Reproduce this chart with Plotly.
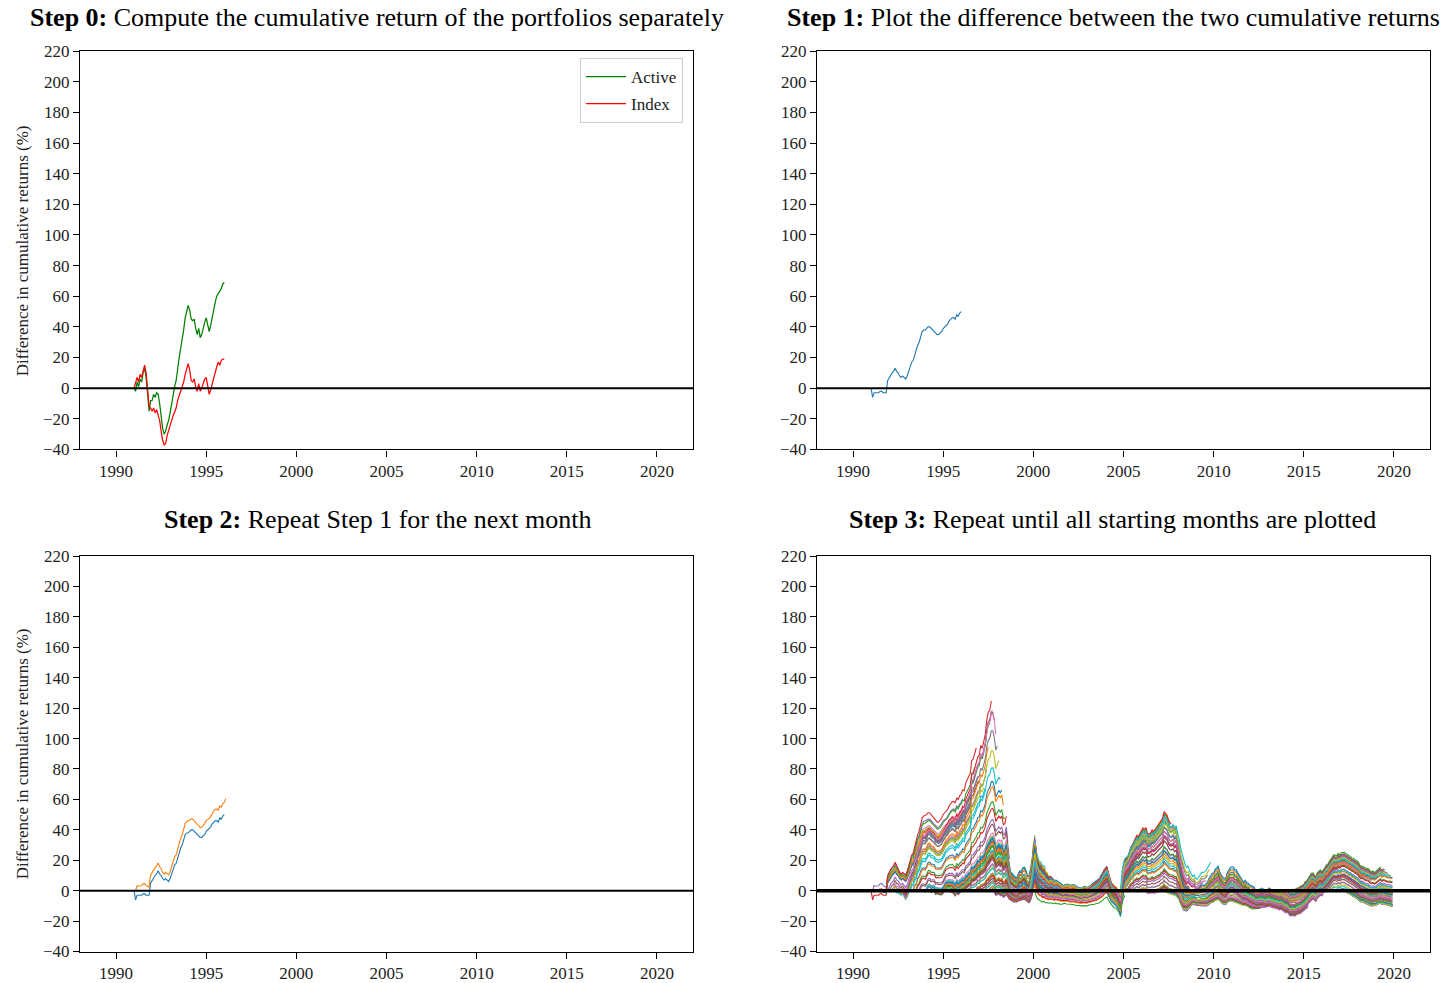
import numpy as np
import plotly.graph_objects as go

# ---------------- data ----------------
start_year = 1991
window_months = 60
x_ticks = [1990, 1995, 2000, 2005, 2010, 2015, 2020]
y_ticks = list(range(-40, 221, 20))

# Monthly value of the index portfolio (Jan 1991 = 100), Jan 1991 .. Dec 2019
index_value = [
    100, 104, 107, 104, 109, 107, 112, 115, 110, 97, 88, 87,
    85, 87, 84, 86, 83, 79, 72, 66, 63, 64, 69, 73,
    76, 79, 82, 84, 87, 92, 96, 98, 101, 104, 109, 113,
    116, 112, 105, 104, 106, 101, 98, 103, 98, 100, 104, 106,
    107, 100, 96, 99, 103, 108, 110, 114, 117, 115, 118, 119,
    119, 121, 122, 124, 127, 126, 129, 135, 137, 140, 145, 143,
    147, 150, 146, 149, 155, 160, 166, 161, 165, 162, 160, 158,
    160, 162, 165, 166, 160, 158, 163, 140, 120, 108, 112, 110,
    105, 105, 110, 118, 116, 122, 120, 118, 114, 115, 122, 130,
    138, 145, 140, 132, 126, 128, 124, 122, 116, 112, 106, 108,
    110, 106, 101, 106, 108, 104, 102, 99, 90, 93, 98, 100,
    99, 98, 102, 100, 101, 98, 94, 95, 95, 97, 100, 100,
    98, 97, 99, 102, 106, 108, 110, 112, 110, 114, 116, 118,
    120, 121, 119, 116, 115, 117, 116, 118, 119, 122, 127, 130,
    133, 135, 133, 131, 136, 139, 143, 144, 149, 150, 152, 155,
    160, 162, 164, 165, 160, 161, 163, 166, 168, 170, 174, 177,
    180, 178, 182, 190, 194, 192, 188, 182, 185, 193, 188, 195,
    186, 180, 176, 178, 170, 160, 155, 150, 132, 110, 100, 102,
    98, 95, 100, 110, 118, 117, 120, 124, 128, 130, 135, 137,
    134, 136, 139, 140, 132, 130, 134, 132, 135, 140, 141, 146,
    150, 152, 151, 153, 150, 147, 145, 138, 135, 140, 139, 140,
    145, 149, 150, 148, 142, 145, 147, 149, 151, 150, 151, 152,
    155, 156, 158, 159, 161, 157, 160, 158, 161, 164, 166, 168,
    164, 167, 166, 160, 163, 165, 164, 166, 163, 165, 167, 166,
    165, 170, 171, 172, 173, 175, 174, 166, 163, 170, 171, 168,
    162, 165, 170, 171, 172, 173, 176, 177, 175, 174, 177, 179,
    180, 182, 183, 184, 185, 186, 187, 188, 189, 191, 193, 194,
    198, 192, 189, 190, 191, 192, 195, 197, 198, 190, 192, 183,
    188, 191, 193, 196, 190, 195, 196, 194, 196, 198, 201, 204,
]

# Monthly value of the active portfolio relative to the index portfolio (%)
active_to_index = [
    100.0, 94.2, 97.2, 97.1, 97.2, 97.2, 98.2, 98.3, 97.3, 96.9, 96.6, 105.7,
    108.2, 110.3, 111.9, 112.8, 115.7, 113.9, 113.9, 112.1, 111.1, 112.5, 110.1, 108.2,
    110.5, 113.9, 117.1, 120.2, 120.7, 123.9, 125.0, 128.6, 129.7, 132.7, 133.9, 133.6,
    132.8, 134.8, 138.1, 138.5, 136.8, 137.6, 137.8, 135.0, 135.7, 135.0, 134.6, 134.9,
    136.4, 140.0, 142.7, 142.4, 142.7, 141.7, 141.8, 140.4, 138.5, 141.7, 139.8, 141.2,
    142.0, 143.2, 142.4, 145.1, 145.6, 147.3, 147.5, 150.6, 150.4, 151.4, 151.6, 154.1,
    153.5, 155.6, 156.0, 156.8, 157.5, 160.2, 160.6, 162.7, 164.0, 165.0, 163.4, 159.6,
    160.4, 161.3, 159.6, 160.5, 157.6, 158.4, 161.0, 157.5, 152.4, 149.6, 148.5, 146.8,
    146.4, 145.7, 148.4, 150.1, 149.5, 151.8, 152.6, 150.4, 146.8, 146.3, 150.5, 157.6,
    168.4, 175.0, 167.6, 164.5, 162.6, 162.4, 159.6, 160.3, 157.7, 157.3, 155.2, 156.4,
    156.6, 155.4, 153.7, 155.8, 154.6, 154.3, 152.7, 152.3, 150.8, 152.3, 152.2, 152.4,
    151.2, 151.4, 151.7, 151.9, 150.6, 150.3, 148.8, 148.9, 148.0, 149.3, 150.2, 149.4,
    149.2, 150.4, 150.7, 152.3, 153.2, 154.4, 154.7, 156.3, 156.8, 159.3, 160.7, 163.4,
    164.6, 166.2, 161.7, 158.4, 153.6, 152.4, 150.6, 150.3, 147.7, 145.3, 141.0, 158.0,
    165.6, 169.2, 170.6, 172.4, 174.6, 177.3, 177.7, 180.3, 180.7, 182.2, 180.7, 182.3,
    182.7, 183.8, 182.7, 183.3, 180.6, 180.8, 180.7, 181.8, 180.7, 181.3, 181.7, 182.8,
    182.7, 184.3, 184.7, 186.5, 184.7, 184.3, 182.7, 182.3, 181.8, 181.3, 180.2, 180.3,
    177.6, 175.2, 169.7, 165.3, 161.7, 160.3, 158.7, 160.2, 158.7, 158.3, 157.7, 159.2,
    155.7, 155.0, 156.3, 157.7, 159.3, 159.7, 159.3, 160.2, 161.7, 164.3, 165.8, 167.2,
    167.7, 170.3, 170.7, 172.2, 168.7, 166.3, 164.7, 164.3, 163.8, 167.2, 168.7, 170.3,
    170.4, 170.2, 168.7, 168.3, 166.7, 165.3, 163.7, 162.3, 160.8, 162.2, 160.7, 160.2,
    158.7, 158.3, 157.7, 157.3, 154.8, 155.7, 155.7, 156.3, 156.7, 156.2, 154.8, 155.7,
    155.8, 156.7, 155.8, 155.2, 155.3, 154.2, 154.3, 153.2, 153.3, 154.2, 152.8, 152.2,
    150.8, 151.7, 149.8, 147.0, 148.2, 148.3, 147.6, 149.2, 149.3, 150.2, 150.8, 152.2,
    152.8, 155.2, 155.8, 158.2, 159.8, 162.2, 162.8, 161.2, 159.8, 163.2, 164.8, 166.2,
    164.8, 166.2, 167.8, 170.2, 170.8, 173.2, 174.8, 177.2, 178.8, 178.2, 177.8, 179.2,
    177.8, 179.2, 179.3, 179.2, 177.8, 177.2, 175.8, 175.2, 173.8, 173.2, 171.8, 171.2,
    169.8, 168.2, 166.8, 167.2, 165.8, 165.2, 164.8, 164.2, 162.8, 162.2, 162.8, 162.2,
    162.8, 164.2, 164.8, 165.7, 164.3, 165.2, 164.3, 164.2, 163.3, 163.7, 162.8, 163.2,
]

series_names = ["Active", "Index"]
title_bold = ["Step 0:", "Step 1:", "Step 2:", "Step 3:"]
title_text = [
    "Compute the cumulative return of the portfolios separately",
    "Plot the difference between the two cumulative returns",
    "Repeat Step 1 for the next month",
    "Repeat until all starting months are plotted",
]
y_label = "Difference in cumulative returns (%)"

# ---------------- derived ----------------
assert len(index_value) == len(active_to_index) == 348
idx = np.array(index_value, float)
act = idx * np.array(active_to_index, float) / 100.0
n = len(idx)
t = start_year + np.arange(n) / 12.0


def diff_line(s):
    seg = slice(s, min(s + window_months, n - 1) + 1)
    return t[seg], (act[seg] / act[s] - idx[seg] / idx[s]) * 100.0


tab10 = ["#1f77b4", "#ff7f0e", "#2ca02c", "#d62728", "#9467bd",
         "#8c564b", "#e377c2", "#7f7f7f", "#bcbd22", "#17becf"]

FONT = "Liberation Serif, Times New Roman, DejaVu Serif, serif"
TICK_COLOR = "#222222"

fig = go.Figure()

# Panel 0: cumulative returns of each portfolio
seg0 = slice(0, window_months + 1)
fig.add_trace(go.Scatter(x=t[seg0], y=(act[seg0] / act[0] - 1) * 100, mode="lines",
                         line=dict(color="green", width=1.25), name=series_names[0],
                         legendgroup="a", xaxis="x", yaxis="y", showlegend=True))
fig.add_trace(go.Scatter(x=t[seg0], y=(idx[seg0] / idx[0] - 1) * 100, mode="lines",
                         line=dict(color="red", width=1.25), name=series_names[1],
                         legendgroup="b", xaxis="x", yaxis="y", showlegend=True))

# Panel 1: first starting month
xx, yy = diff_line(0)
fig.add_trace(go.Scatter(x=xx, y=yy, mode="lines", line=dict(color=tab10[0], width=1.1),
                         xaxis="x2", yaxis="y2", showlegend=False))

# Panel 2: first two starting months
for s in range(2):
    xx, yy = diff_line(s)
    fig.add_trace(go.Scatter(x=xx, y=yy, mode="lines", line=dict(color=tab10[s % 10], width=1.1),
                             xaxis="x3", yaxis="y3", showlegend=False))

# Panel 3: all starting months
for s in range(n - 1):
    xx, yy = diff_line(s)
    fig.add_trace(go.Scatter(x=xx, y=yy, mode="lines",
                             line=dict(color=tab10[(s + 3) % 10], width=1.1),
                             xaxis="x4", yaxis="y4", showlegend=False, hoverinfo="skip"))

W, H = 1440, 983
left_dom = [80 / W, 693 / W]
right_dom = [817 / W, 1430 / W]
top_dom = [1 - 449.6 / H, 1 - 43.0 / H]
bot_dom = [1 - 962.1 / H, 1 - 558.4 / H]


def ax(domain, anchor, is_x):
    d = dict(domain=domain, anchor=anchor, showline=True, linecolor="black", linewidth=1.2,
             mirror=True, ticks="outside", ticklen=6, tickwidth=1.2, tickcolor="black",
             showgrid=False, zeroline=False,
             tickfont=dict(family=FONT, size=17, color=TICK_COLOR))
    if is_x:
        d.update(range=[1988, 2022], tickmode="array", tickvals=x_ticks,
                 ticktext=[str(v) for v in x_ticks])
    else:
        d.update(range=[-40, 220], tickmode="array", tickvals=y_ticks)
    return d


layout = dict(
    width=W, height=H, margin=dict(l=0, r=0, t=0, b=0),
    paper_bgcolor="white", plot_bgcolor="white",
    font=dict(family=FONT, size=16, color="black"),
    xaxis=ax(left_dom, "y", True), yaxis=ax(top_dom, "x", False),
    xaxis2=ax(right_dom, "y2", True), yaxis2=ax(top_dom, "x2", False),
    xaxis3=ax(left_dom, "y3", True), yaxis3=ax(bot_dom, "x3", False),
    xaxis4=ax(right_dom, "y4", True), yaxis4=ax(bot_dom, "x4", False),
    legend=dict(x=683 / W, y=1 - 50 / H, xanchor="right", yanchor="top",
                bordercolor="#cccccc", borderwidth=1, bgcolor="white",
                font=dict(family=FONT, size=17, color=TICK_COLOR),
                tracegroupgap=2, itemwidth=40),
)
fig.update_layout(**layout)

# zero lines
for k, xr in enumerate(["x", "x2", "x3", "x4"]):
    yr = "y" if k == 0 else "y%d" % (k + 1)
    fig.add_shape(type="line", xref=xr + " domain", yref=yr, x0=0, x1=1, y0=0, y1=0,
                  line=dict(color="black", width=3.5 if k == 3 else 2), layer="above")

# titles
title_pos = [(377 / W, 1 - 9 / H), (1113 / W, 1 - 9 / H),
             (377 / W, 1 - 521 / H), (1112 / W, 1 - 521 / H)]
for (px, py), b, txt in zip(title_pos, title_bold, title_text):
    fig.add_annotation(x=px, y=py, xref="paper", yref="paper", showarrow=False,
                       text="<b>%s</b> %s" % (b, txt), xanchor="center", yanchor="middle",
                       font=dict(family=FONT, size=26, color="black"))

# y labels
for py in [1 - 247.3 / H, 1 - 760.8 / H]:
    fig.add_annotation(x=22 / W, y=py, xref="paper", yref="paper", showarrow=False,
                       text=y_label, textangle=-90, xanchor="center", yanchor="middle",
                       font=dict(family=FONT, size=17, color=TICK_COLOR))

fig.write_html("out.html")
